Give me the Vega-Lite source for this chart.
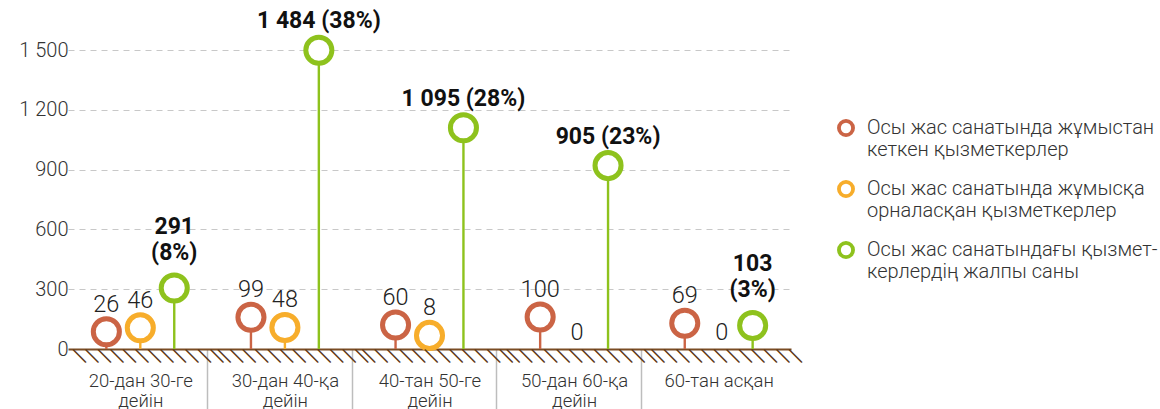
{
  "$schema": "https://vega.github.io/schema/vega-lite/v6.json",
  "width": 724,
  "height": 299,
  "autosize": {"type": "none"},
  "padding": {"left": 79, "top": 50, "right": 357, "bottom": 60},
  "background": "white",
  "config": {"view": {"stroke": null}, "font": "Roboto"},
  "data": {
    "values": [
      {"cat": "20-дан 30-ге дейін", "series": "Осы жас санатында жұмыстан кеткен қызметкерлер", "value": 26},
      {"cat": "20-дан 30-ге дейін", "series": "Осы жас санатында жұмысқа орналасқан қызметкерлер", "value": 46},
      {"cat": "20-дан 30-ге дейін", "series": "Осы жас санатындағы қызметкерлердің жалпы саны", "value": 291, "pct": 8},
      {"cat": "30-дан 40-қа дейін", "series": "Осы жас санатында жұмыстан кеткен қызметкерлер", "value": 99},
      {"cat": "30-дан 40-қа дейін", "series": "Осы жас санатында жұмысқа орналасқан қызметкерлер", "value": 48},
      {"cat": "30-дан 40-қа дейін", "series": "Осы жас санатындағы қызметкерлердің жалпы саны", "value": 1484, "pct": 38},
      {"cat": "40-тан 50-ге дейін", "series": "Осы жас санатында жұмыстан кеткен қызметкерлер", "value": 60},
      {"cat": "40-тан 50-ге дейін", "series": "Осы жас санатында жұмысқа орналасқан қызметкерлер", "value": 8},
      {"cat": "40-тан 50-ге дейін", "series": "Осы жас санатындағы қызметкерлердің жалпы саны", "value": 1095, "pct": 28},
      {"cat": "50-дан 60-қа дейін", "series": "Осы жас санатында жұмыстан кеткен қызметкерлер", "value": 100},
      {"cat": "50-дан 60-қа дейін", "series": "Осы жас санатында жұмысқа орналасқан қызметкерлер", "value": 0},
      {"cat": "50-дан 60-қа дейін", "series": "Осы жас санатындағы қызметкерлердің жалпы саны", "value": 905, "pct": 23},
      {"cat": "60-тан асқан", "series": "Осы жас санатында жұмыстан кеткен қызметкерлер", "value": 69},
      {"cat": "60-тан асқан", "series": "Осы жас санатында жұмысқа орналасқан қызметкерлер", "value": 0},
      {"cat": "60-тан асқан", "series": "Осы жас санатындағы қызметкерлердің жалпы саны", "value": 103, "pct": 3}
    ]
  },
  "encoding": {
    "x": {
      "field": "cat",
      "type": "nominal",
      "sort": ["20-дан 30-ге дейін", "30-дан 40-қа дейін", "40-тан 50-ге дейін", "50-дан 60-қа дейін", "60-тан асқан"],
      "scale": {"range": [-11, 712], "paddingInner": 0, "paddingOuter": 0},
      "axis": {
        "title": null,
        "orient": "bottom",
        "domainColor": "#7a4c24",
        "domainWidth": 2,
        "ticks": true,
        "tickColor": "#bdbdbd",
        "tickWidth": 1.5,
        "tickSize": 60,
        "tickOffset": -78,
        "labelOffset": 78,
        "tickOpacity": {"condition": {"test": "datum.value === '20-дан 30-ге дейін'", "value": 0}, "value": 1},
        "labelPadding": -38,
        "labelAngle": 0,
        "labelOverlap": false,
        "labelFontSize": 18.5,
        "labelFontWeight": 300,
        "labelColor": "#333333",
        "labelLineHeight": 20,
        "labelExpr": "indexof(datum.label, ' дейін') > 0 ? [replace(datum.label, ' дейін', ''), 'дейін'] : datum.label"
      }
    },
    "y": {
      "field": "value",
      "type": "quantitative",
      "scale": {"domain": [0, 1500], "nice": false},
      "axis": {
        "title": null,
        "values": [0, 300, 600, 900, 1200, 1500],
        "domain": false,
        "ticks": false,
        "grid": true,
        "gridDash": [6, 5],
        "gridColor": "#c8c8c8",
        "gridWidth": 1,
        "gridOpacity": {"condition": {"test": "datum.value === 0", "value": 0}, "value": 1},
        "labelFontSize": 20,
        "labelFontWeight": 300,
        "labelColor": "#333333",
        "labelPadding": 11,
        "labelExpr": "replace(format(datum.value, ','), ',', ' ')"
      }
    }
  },
  "layer": [
    {
      "transform": [{"filter": "datum.value > 0"}],
      "mark": {"type": "rule", "strokeWidth": 2.4},
      "encoding": {
        "xOffset": {"field": "series", "type": "nominal", "sort": ["Осы жас санатында жұмыстан кеткен қызметкерлер", "Осы жас санатында жұмысқа орналасқан қызметкерлер", "Осы жас санатындағы қызметкерлердің жалпы саны"], "scale": {"paddingInner": 0, "paddingOuter": 0.63}},
        "y2": {"datum": 0},
        "color": {
          "field": "series",
          "type": "nominal",
          "sort": ["Осы жас санатында жұмыстан кеткен қызметкерлер", "Осы жас санатында жұмысқа орналасқан қызметкерлер", "Осы жас санатындағы қызметкерлердің жалпы саны"],
          "scale": {"domain": ["Осы жас санатында жұмыстан кеткен қызметкерлер", "Осы жас санатында жұмысқа орналасқан қызметкерлер", "Осы жас санатындағы қызметкерлердің жалпы саны"], "range": ["#CB6445", "#F7AD2B", "#8EC21D"]},
          "legend": {
            "title": null,
            "orient": "none",
            "legendX": 757,
            "legendY": 68,
            "symbolType": "circle",
            "symbolSize": 200,
            "symbolStrokeWidth": 3.8,
            "symbolFillColor": "white",
            "labelFontSize": 20,
            "labelFontWeight": 300,
            "labelColor": "#333333",
            "labelLimit": 320,
            "labelOffset": 11,
            "rowPadding": 14,
            "labelExpr": "datum.label == 'Осы жас санатында жұмыстан кеткен қызметкерлер' ? ['Осы жас санатында жұмыстан', 'кеткен қызметкерлер'] : datum.label == 'Осы жас санатында жұмысқа орналасқан қызметкерлер' ? ['Осы жас санатында жұмысқа', 'орналасқан қызметкерлер'] : ['Осы жас санатындағы қызмет-', 'керлердің жалпы саны']"
          }
        }
      }
    },
    {
      "transform": [{"filter": "datum.value > 0 && datum.series != 'Осы жас санатындағы қызметкерлердің жалпы саны'"}],
      "mark": {"type": "point", "shape": "circle", "filled": false, "fill": "white", "size": 680, "strokeWidth": 5, "opacity": 1, "yOffset": -12},
      "encoding": {
        "xOffset": {"field": "series", "type": "nominal", "sort": ["Осы жас санатында жұмыстан кеткен қызметкерлер", "Осы жас санатында жұмысқа орналасқан қызметкерлер", "Осы жас санатындағы қызметкерлердің жалпы саны"]},
        "color": {"field": "series", "type": "nominal"}
      }
    },
    {
      "transform": [{"filter": "datum.series == 'Осы жас санатындағы қызметкерлердің жалпы саны'"}],
      "mark": {"type": "point", "shape": "circle", "filled": false, "fill": "white", "size": 680, "strokeWidth": 5, "opacity": 1, "yOffset": -3},
      "encoding": {
        "xOffset": {"field": "series", "type": "nominal", "sort": ["Осы жас санатында жұмыстан кеткен қызметкерлер", "Осы жас санатында жұмысқа орналасқан қызметкерлер", "Осы жас санатындағы қызметкерлердің жалпы саны"]},
        "color": {"field": "series", "type": "nominal"}
      }
    },
    {
      "transform": [{"filter": "datum.value > 0 && datum.series != 'Осы жас санатындағы қызметкерлердің жалпы саны'"}],
      "mark": {"type": "text", "baseline": "alphabetic", "dy": -32, "fontSize": 23.5, "fontWeight": 300, "color": "#222222"},
      "encoding": {
        "xOffset": {"field": "series", "type": "nominal", "sort": ["Осы жас санатында жұмыстан кеткен қызметкерлер", "Осы жас санатында жұмысқа орналасқан қызметкерлер", "Осы жас санатындағы қызметкерлердің жалпы саны"]},
        "text": {"field": "value", "type": "quantitative"}
      }
    },
    {
      "transform": [{"filter": "datum.value == 0"}],
      "mark": {"type": "text", "baseline": "alphabetic", "dy": -9, "dx": 3, "fontSize": 23.5, "fontWeight": 300, "color": "#222222"},
      "encoding": {
        "xOffset": {"field": "series", "type": "nominal", "sort": ["Осы жас санатында жұмыстан кеткен қызметкерлер", "Осы жас санатында жұмысқа орналасқан қызметкерлер", "Осы жас санатындағы қызметкерлердің жалпы саны"]},
        "text": {"field": "value", "type": "quantitative"}
      }
    },
    {
      "transform": [
        {"filter": "datum.series == 'Осы жас санатындағы қызметкерлердің жалпы саны' && datum.value >= 500"},
        {"calculate": "replace(format(datum.value, ','), ',', ' ') + ' (' + datum.pct + '%)'", "as": "label"}
      ],
      "mark": {"type": "text", "baseline": "alphabetic", "dy": -25, "fontSize": 23, "fontWeight": "bold", "color": "#111111"},
      "encoding": {
        "xOffset": {"field": "series", "type": "nominal", "sort": ["Осы жас санатында жұмыстан кеткен қызметкерлер", "Осы жас санатында жұмысқа орналасқан қызметкерлер", "Осы жас санатындағы қызметкерлердің жалпы саны"]},
        "text": {"field": "label", "type": "nominal"}
      }
    },
    {
      "transform": [
        {"filter": "datum.series == 'Осы жас санатындағы қызметкерлердің жалпы саны' && datum.value < 500"},
        {"calculate": "[replace(format(datum.value, ','), ',', ' '), '(' + datum.pct + '%)']", "as": "label"}
      ],
      "mark": {"type": "text", "baseline": "alphabetic", "dy": -57, "fontSize": 23, "fontWeight": "bold", "lineHeight": 26, "color": "#111111"},
      "encoding": {
        "xOffset": {"field": "series", "type": "nominal", "sort": ["Осы жас санатында жұмыстан кеткен қызметкерлер", "Осы жас санатында жұмысқа орналасқан қызметкерлер", "Осы жас санатындағы қызметкерлердің жалпы саны"]},
        "text": {"field": "label", "type": "nominal"}
      }
    },
    {
      "transform": [{"filter": "datum.series == 'Осы жас санатында жұмыстан кеткен қызметкерлер'"}],
      "mark": {"type": "text", "text": "╲╲╲╲╲╲╲╲╲╲╲╲", "font": "Noto Sans CJK SC", "fontSize": 12.5, "fontWeight": "bold", "baseline": "top", "dy": 2, "dx": 8, "color": "#5e3a1a", "stroke": "#5e3a1a", "strokeWidth": 0.9},
      "encoding": {
        "y": {"datum": 0}
      }
    }
  ]
}
